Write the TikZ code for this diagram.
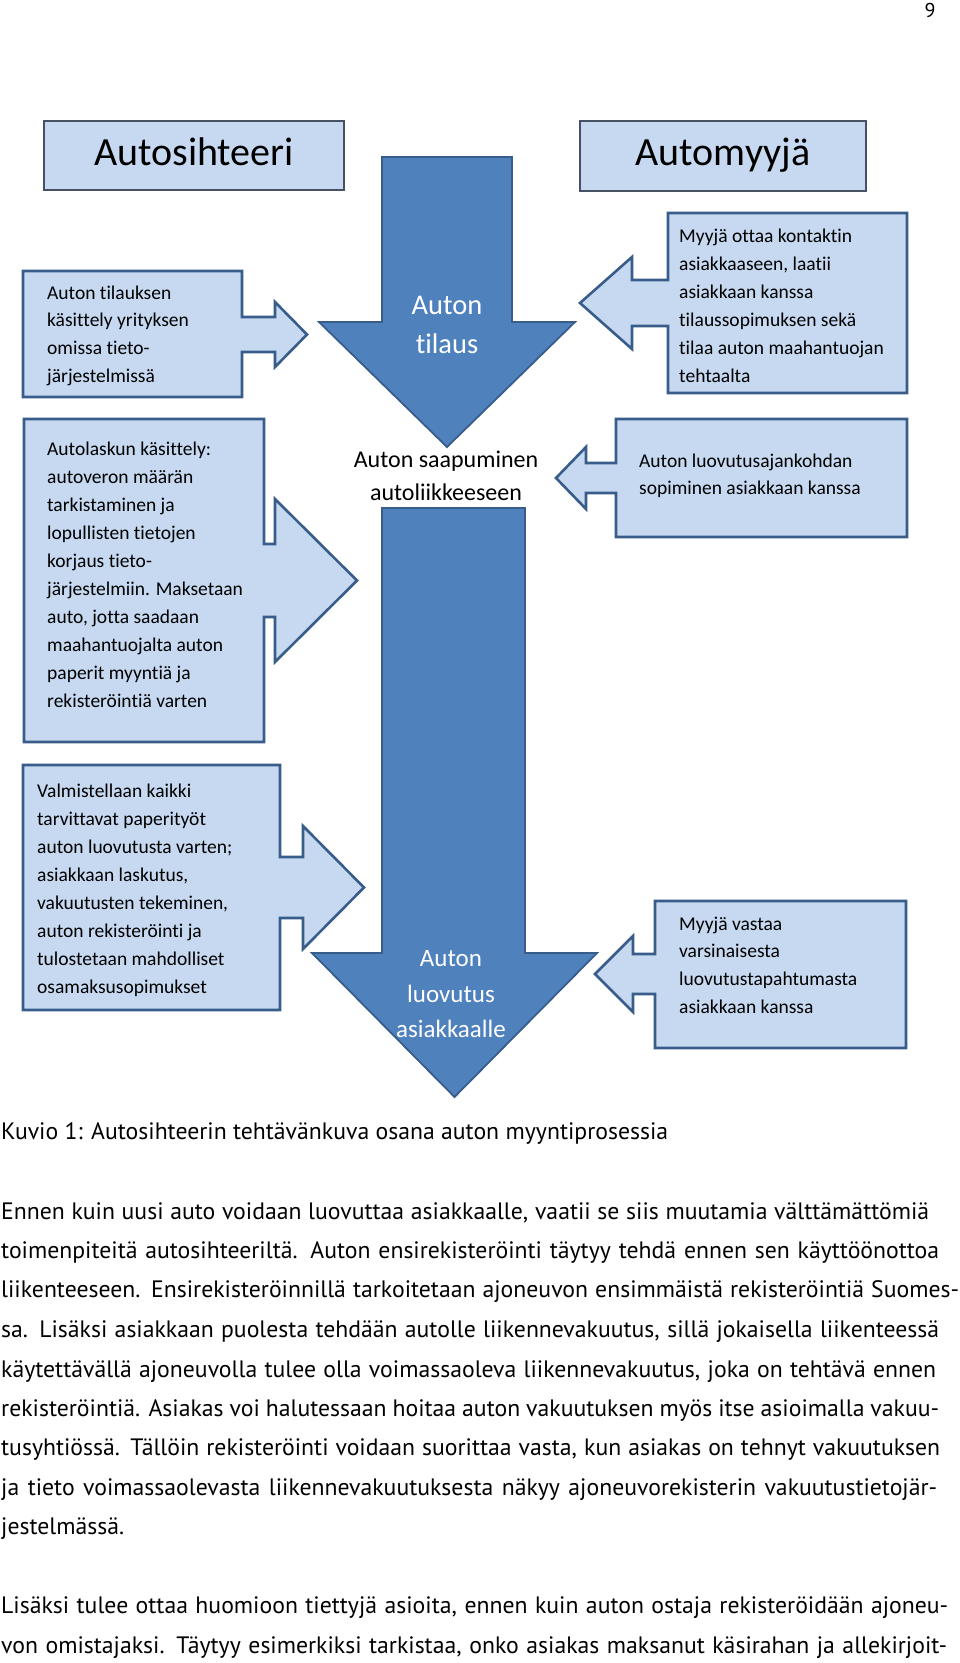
\documentclass[tikz,border=0pt]{standalone}
\usepackage{fontspec}
\setmainfont{Carlito}[Ligatures=NoCommon]
\newfontfamily\bodyfont{PT Sans}[Ligatures=NoCommon]
\newlength\capw
\definecolor{boxfill}{RGB}{198,217,241}
\definecolor{boxline}{RGB}{56,93,138}
\definecolor{arrfill}{RGB}{79,129,189}
\definecolor{hdrline}{RGB}{70,82,100}
\begin{document}
\settowidth{\capw}{\bodyfont\fontsize{20pt}{24pt}\selectfont Kuvio 1: Autosihteerin tehtävänkuva osana auton myyntiprosessia}%
\pgfmathsetmacro\bsz{20*667/\capw}%
\def\bfs{\bodyfont\fontsize{\bsz pt}{\bsz pt}\selectfont}%
\begin{tikzpicture}[x=1pt,y=-1pt,
  callout/.style={fill=boxfill,draw=boxline,line width=2.6pt,line join=miter},
  bigarrow/.style={fill=arrfill,draw=boxline,line width=1.8pt,line join=miter},
  header/.style={fill=boxfill,draw=hdrline,line width=1.6pt},
  hdrtxt/.style={anchor=base,inner sep=0pt,font=\fontsize{40}{48}\selectfont},
  boxtxt/.style={anchor=base west,inner sep=0pt,font=\fontsize{19.5}{24}\selectfont},
  midtxt/.style={anchor=base,inner sep=0pt,font=\fontsize{24}{30}\selectfont},
  toptxt/.style={anchor=base,inner sep=0pt,text=white,font=\fontsize{28.5}{34}\selectfont},
  bottxt/.style={anchor=base,inner sep=0pt,text=white,font=\fontsize{25}{30}\selectfont},
  bodytxt/.style={anchor=base west,inner sep=0pt}]
\path[use as bounding box,fill=white] (0,0) rectangle (960,1663);

% page number
\node[anchor=base,inner sep=0pt,font=\bodyfont\fontsize{20}{24}\selectfont] (pnum) at (930,17) {9};

% headers
\draw[header] (44,121) rectangle (344,190);
\node[hdrtxt] (h1) at (194,165) {Autosihteeri};
\draw[header] (580,121) rectangle (866,191);
\node[hdrtxt] (h2) at (723,165) {Automyyjä};

% big arrows
\draw[bigarrow] (382,157) -- (512,157) -- (512,322) -- (575,322) -- (447,447) -- (319,322) -- (382,322) -- cycle;
\draw[bigarrow] (382,508) -- (525,508) -- (525,953) -- (597,953) -- (454.5,1097) -- (312,953) -- (382,953) -- cycle;

\node[toptxt] (t1) at (447,314) {Auton};
\node[toptxt] (t2) at (447,353) {tilaus};
\node[midtxt] (m1) at (446,467) {Auton saapuminen};
\node[midtxt] (m2) at (446,500) {autoliikkeeseen};
\node[bottxt] (b1) at (451,966) {Auton};
\node[bottxt] (b2) at (451,1002) {luovutus};
\node[bottxt] (b3) at (451,1037) {asiakkaalle};

% left callouts
\draw[callout] (23,271) -- (242,271) -- (242,317) -- (275,317) -- (275,302) -- (307,334.5) -- (275,367) -- (275,352) -- (242,352) -- (242,397) -- (23,397) -- cycle;
\draw[callout] (24,419) -- (264,419) -- (264,544) -- (275,544) -- (275,499) -- (357,580.5) -- (275,662) -- (275,617) -- (264,617) -- (264,742) -- (24,742) -- cycle;
\draw[callout] (23,765) -- (280,765) -- (280,857) -- (303,857) -- (303,826) -- (364,887.5) -- (303,949) -- (303,918) -- (280,918) -- (280,1010) -- (23,1010) -- cycle;
% right callouts
\draw[callout] (907,213) -- (668,213) -- (668,280) -- (632,280) -- (632,257) -- (580,303) -- (632,349) -- (632,326) -- (668,326) -- (668,393) -- (907,393) -- cycle;
\draw[callout] (907,419) -- (616,419) -- (616,463) -- (586,463) -- (586,447) -- (556,478) -- (586,509) -- (586,493) -- (616,493) -- (616,537) -- (907,537) -- cycle;
\draw[callout] (906,901) -- (655,901) -- (655,954) -- (633,954) -- (633,936) -- (595,974) -- (633,1012) -- (633,994) -- (655,994) -- (655,1048) -- (906,1048) -- cycle;

% callout texts
\foreach \t [count=\i from 0] in {Auton tilauksen, käsittely yrityksen, omissa tieto-, järjestelmissä}
  \node[boxtxt] (la\i) at (47,299+27.7*\i) {\t};
\foreach \t [count=\i from 0] in {Autolaskun käsittely:, autoveron määrän, tarkistaminen ja, lopullisten tietojen, korjaus tieto-, järjestelmiin. Maksetaan, {auto, jotta saadaan}, maahantuojalta auton, paperit myyntiä ja, rekisteröintiä varten}
  \node[boxtxt] (lb\i) at (47,455+28*\i) {\t};
\foreach \t [count=\i from 0] in {Valmistellaan kaikki, tarvittavat paperityöt, auton luovutusta varten;, {asiakkaan laskutus,}, {vakuutusten tekeminen,}, auton rekisteröinti ja, tulostetaan mahdolliset, osamaksusopimukset}
  \node[boxtxt] (lc\i) at (37,797+28*\i) {\t};
\foreach \t [count=\i from 0] in {Myyjä ottaa kontaktin, {asiakkaaseen, laatii}, asiakkaan kanssa, tilaussopimuksen sekä, tilaa auton maahantuojan, tehtaalta}
  \node[boxtxt] (ra\i) at (679,242+28*\i) {\t};
\foreach \t [count=\i from 0] in {Auton luovutusajankohdan, sopiminen asiakkaan kanssa}
  \node[boxtxt] (rb\i) at (639,467+27.5*\i) {\t};
\foreach \t [count=\i from 0] in {Myyjä vastaa, varsinaisesta, luovutustapahtumasta, asiakkaan kanssa}
  \node[boxtxt] (rc\i) at (679,930+27.7*\i) {\t};

% caption and body text
\node[bodytxt] (cap) at (1,1139) {\bfs Kuvio 1: Autosihteerin tehtävänkuva osana auton myyntiprosessia};
\node[bodytxt] (p1) at (1,1219) {\bfs\makebox[928pt][s]{Ennen kuin uusi auto voidaan luovuttaa asiakkaalle, vaatii se siis muutamia välttämättömiä}};
\node[bodytxt] (p2) at (1,1258) {\bfs\makebox[938pt][s]{toimenpiteitä autosihteeriltä. Auton ensirekisteröinti täytyy tehdä ennen sen käyttöönottoa}};
\node[bodytxt] (p3) at (1,1297) {\bfs\makebox[958pt][s]{liikenteeseen. Ensirekisteröinnillä tarkoitetaan ajoneuvon ensimmäistä rekisteröintiä Suomes-}};
\node[bodytxt] (p4) at (1,1337) {\bfs\makebox[938pt][s]{sa. Lisäksi asiakkaan puolesta tehdään autolle liikennevakuutus, sillä jokaisella liikenteessä}};
\node[bodytxt] (p5) at (1,1377) {\bfs\makebox[935pt][s]{käytettävällä ajoneuvolla tulee olla voimassaoleva liikennevakuutus, joka on tehtävä ennen}};
\node[bodytxt] (p6) at (1,1416) {\bfs\makebox[938pt][s]{rekisteröintiä. Asiakas voi halutessaan hoitaa auton vakuutuksen myös itse asioimalla vakuu-}};
\node[bodytxt] (p7) at (1,1455) {\bfs\makebox[939pt][s]{tusyhtiössä. Tällöin rekisteröinti voidaan suorittaa vasta, kun asiakas on tehnyt vakuutuksen}};
\node[bodytxt] (p8) at (1,1495) {\bfs\makebox[936pt][s]{ja tieto voimassaolevasta liikennevakuutuksesta näkyy ajoneuvorekisterin vakuutustietojär-}};
\node[bodytxt] (p9) at (1,1534) {\bfs jestelmässä.};
\node[bodytxt] (q1) at (1,1613) {\bfs\makebox[947pt][s]{Lisäksi tulee ottaa huomioon tiettyjä asioita, ennen kuin auton ostaja rekisteröidään ajoneu-}};
\node[bodytxt] (q2) at (1,1653) {\bfs\makebox[946pt][s]{von omistajaksi. Täytyy esimerkiksi tarkistaa, onko asiakas maksanut käsirahan ja allekirjoit-}};
\end{tikzpicture}
\end{document}
